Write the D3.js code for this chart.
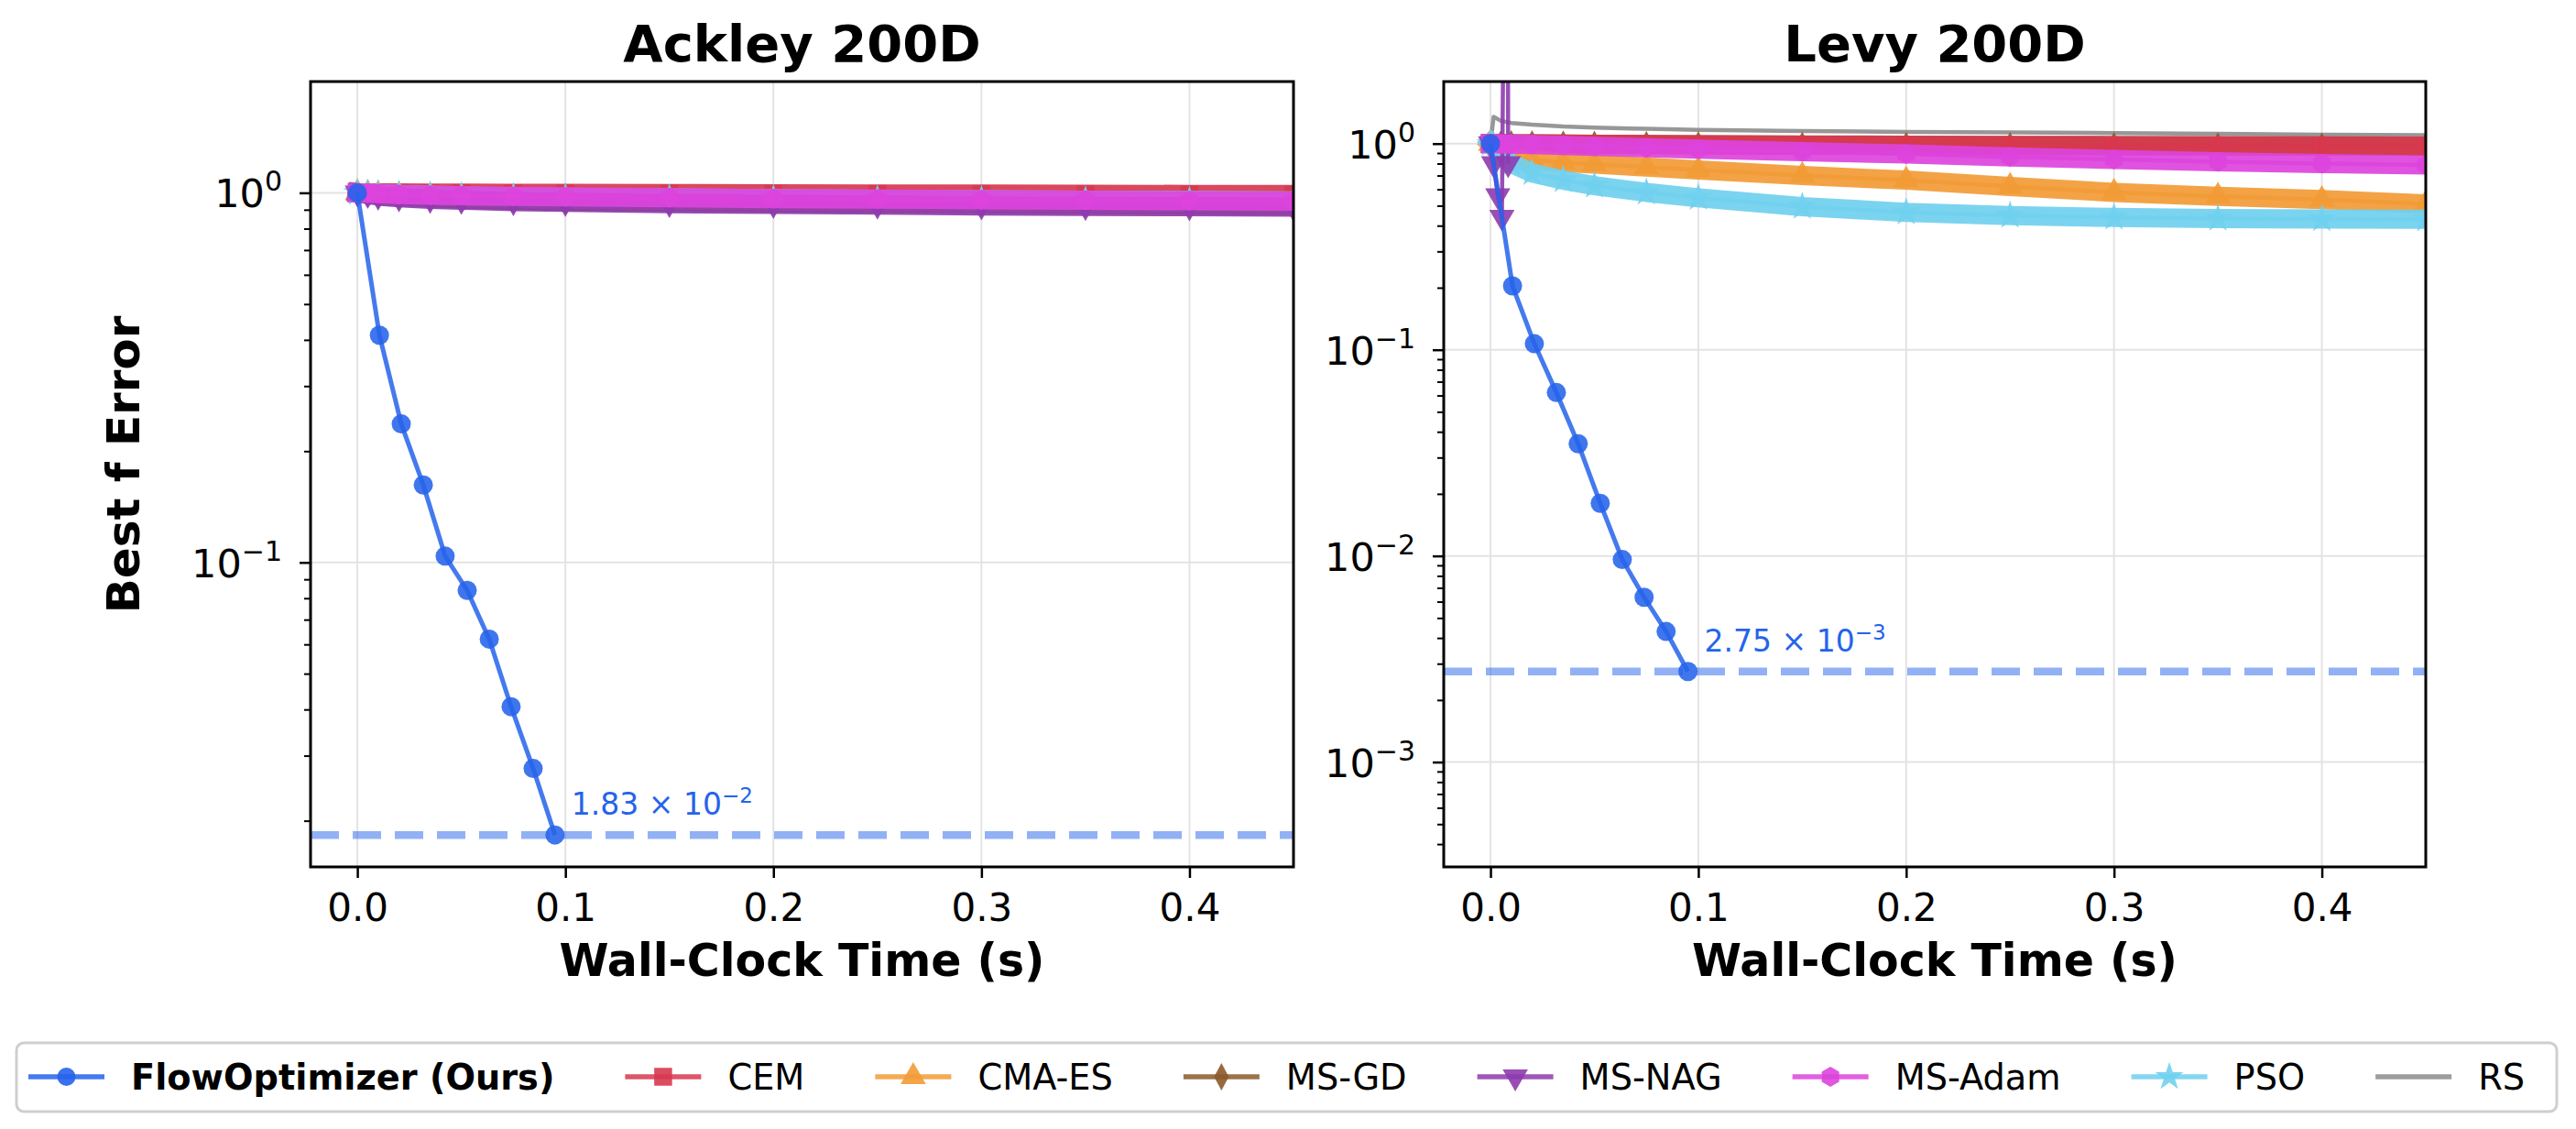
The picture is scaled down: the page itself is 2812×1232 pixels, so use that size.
<!DOCTYPE html>
<html><head><meta charset="utf-8">
<script src="https://cdn.jsdelivr.net/npm/d3@7"></script>
<style>body{margin:0;background:#fff} svg{display:block} text{font-family:"DejaVu Sans",sans-serif}</style>
</head><body><svg id="c" width="2812" height="1232"></svg>
<script>
// ---------------- data ----------------
const methods = ["FlowOptimizer (Ours)","CEM","CMA-ES","MS-GD","MS-NAG","MS-Adam","PSO","RS"];
const methodColors = ["#2563EB","#D7384F","#F29B36","#8B5A2B","#8E3BAE","#DD44DD","#70D0EE","#8C8C8C"];
const methodMarkers = ["circle","square","triUp","thinDiamond","triDown","hexagon","star",null];
const xTickValues = [0, 0.1, 0.2, 0.3, 0.4];
const panelTitles = ["Ackley 200D","Levy 200D"];

const timeFlow = [0, 0.0106, 0.0211, 0.0317, 0.0422, 0.0528, 0.0634, 0.0739, 0.0845, 0.095];
const ackleyFlow = [1.0, 0.412, 0.237, 0.162, 0.104, 0.084, 0.062, 0.0407, 0.0277, 0.0183];
const levyFlow   = [1.0, 0.204, 0.107, 0.062, 0.035, 0.018, 0.0096, 0.0063, 0.0043, 0.00275];

const timeBase = [0, 0.005, 0.01, 0.02, 0.035, 0.05, 0.075, 0.1, 0.15, 0.2, 0.25, 0.3, 0.35, 0.4, 0.45];

// Ackley baselines
const ackleyCEM   = [1.0, 1.0, 1.0, 0.999, 0.998, 0.998, 0.997, 0.996, 0.995, 0.994, 0.993, 0.992, 0.991, 0.99, 0.99];
const ackleyCMAES = [1.0, 0.996, 0.992, 0.985, 0.978, 0.972, 0.966, 0.962, 0.956, 0.951, 0.947, 0.944, 0.941, 0.938, 0.935];
const ackleyMSGD  = [1.0, 0.995, 0.99, 0.98, 0.97, 0.963, 0.955, 0.95, 0.945, 0.94, 0.937, 0.934, 0.931, 0.928, 0.925];
const ackleyMSNAG = [1.0, 0.99, 0.98, 0.97, 0.96, 0.955, 0.947, 0.942, 0.935, 0.93, 0.926, 0.922, 0.919, 0.917, 0.915];
const ackleyMSAdam= [1.0, 0.998, 0.995, 0.99, 0.985, 0.982, 0.978, 0.975, 0.97, 0.965, 0.962, 0.958, 0.955, 0.952, 0.95];
const ackleyPSO   = [1.0, 0.997, 0.994, 0.99, 0.985, 0.98, 0.976, 0.972, 0.968, 0.964, 0.961, 0.958, 0.955, 0.953, 0.951];
const ackleyRS    = [1.0, 1.0, 0.999, 0.998, 0.997, 0.996, 0.995, 0.994, 0.993, 0.992, 0.991, 0.99, 0.99, 0.989, 0.989];

// Levy baselines
const levyCEM    = [1.0, 1.0, 0.998, 0.997, 0.995, 0.993, 0.99, 0.988, 0.985, 0.982, 0.98, 0.978, 0.976, 0.974, 0.972];
const levyCMAES  = [1.0, 0.9, 0.86, 0.835, 0.81, 0.795, 0.77, 0.745, 0.70, 0.665, 0.62, 0.58, 0.555, 0.535, 0.51];
const levyMSGD   = [1.0, 1.0, 0.998, 0.996, 0.994, 0.992, 0.989, 0.986, 0.983, 0.98, 0.978, 0.976, 0.974, 0.972, 0.97];
const levyMSAdam = [1.0, 0.998, 0.995, 0.99, 0.98, 0.97, 0.955, 0.94, 0.915, 0.89, 0.862, 0.837, 0.817, 0.80, 0.787];
const levyPSO    = [1.0, 0.86, 0.80, 0.72, 0.665, 0.625, 0.58, 0.546, 0.495, 0.464, 0.448, 0.438, 0.433, 0.431, 0.43];
const timeLevyNAG = [0, 0.0015, 0.0035, 0.0055, 0.008, 0.0085];
const levyMSNAG   = [1.0, 0.8, 0.56, 0.44, 1000, 0.8];
const timeLevyRS = [0, 0.0015, 0.005, 0.01, 0.02, 0.035, 0.05, 0.075, 0.1, 0.15, 0.2, 0.25, 0.3, 0.35, 0.4, 0.45];
const levyRS     = [1.0, 1.35, 1.29, 1.26, 1.235, 1.21, 1.195, 1.18, 1.165, 1.15, 1.14, 1.133, 1.125, 1.115, 1.105, 1.10];

// ---------------- layout ----------------
const svg = d3.select("#c");
const TOP = 89, BOTTOM = 946;
const panels = [
  {title: panelTitles[0], left: 339, right: 1412, yDomain: [0.015, 2], yLabel: true,
   flow: ackleyFlow,
   series: [
     {m: 7, t: timeBase, v: ackleyRS, band: false},
     {m: 3, t: timeBase, v: ackleyMSGD, band: true},
     {m: 1, t: timeBase, v: ackleyCEM, band: true},
     {m: 2, t: timeBase, v: ackleyCMAES, band: true},
     {m: 6, t: timeBase, v: ackleyPSO, band: true},
     {m: 4, t: timeBase, v: ackleyMSNAG, band: true},
     {m: 5, t: timeBase, v: ackleyMSAdam, band: true}
   ]},
  {title: panelTitles[1], left: 1576, right: 2648, yDomain: [3.1e-4, 2], yLabel: false,
   flow: levyFlow,
   series: [
     {m: 7, t: timeLevyRS, v: levyRS, band: false},
     {m: 3, t: timeBase, v: levyMSGD, band: true},
     {m: 1, t: timeBase, v: levyCEM, band: true},
     {m: 2, t: timeBase, v: levyCMAES, band: true},
     {m: 6, t: timeBase, v: levyPSO, band: true},
     {m: 4, t: timeLevyNAG, v: levyMSNAG, band: false},
     {m: 5, t: timeBase, v: levyMSAdam, band: true}
   ]}
];

function markerPath(type) {
  switch (type) {
    case "circle": return d3.symbol(d3.symbolCircle, 314)();
    case "square": return d3.symbol(d3.symbolSquare, 380)();
    case "triUp": return d3.symbol(d3.symbolTriangle, 330)();
    case "triDown": return d3.symbol(d3.symbolTriangle, 330)();
    case "thinDiamond": return "M0,-15L8,0L0,15L-8,0Z";
    case "hexagon": {
      const r = 11; let p = "";
      for (let i = 0; i < 6; i++) { const a = -Math.PI/2 + i*Math.PI/3; p += (i ? "L" : "M") + (r*Math.cos(a)).toFixed(2) + "," + (r*Math.sin(a)).toFixed(2); }
      return p + "Z";
    }
    case "star": return d3.symbol(d3.symbolStar, 300)();
  }
  return null;
}
function markerRot(type) { return type === "triDown" ? " rotate(180)" : ""; }

const supDigits = n => String(n).replace("-", "\u2212");

panels.forEach((p, pi) => {
  const x = d3.scaleLinear().domain([-0.0225, 0.45]).range([p.left, p.right]);
  const y = d3.scaleLog().domain(p.yDomain).range([BOTTOM, TOP]);
  const g = svg.append("g");
  const clipId = "clip" + pi;
  svg.append("clipPath").attr("id", clipId).append("rect")
    .attr("x", p.left).attr("y", TOP).attr("width", p.right - p.left).attr("height", BOTTOM - TOP);

  const allTicks = y.ticks();
  const major = allTicks.filter(d => Math.abs(Math.log10(d) - Math.round(Math.log10(d))) < 1e-9);
  const minor = allTicks.filter(d => !major.includes(d) && d > p.yDomain[0] && d < p.yDomain[1]);

  // grid
  g.append("g").selectAll("line").data(xTickValues).join("line")
    .attr("x1", d => x(d)).attr("x2", d => x(d)).attr("y1", TOP).attr("y2", BOTTOM)
    .attr("stroke", "#e3e3e3").attr("stroke-width", 2);
  g.append("g").selectAll("line").data(major).join("line")
    .attr("x1", p.left).attr("x2", p.right).attr("y1", d => y(d)).attr("y2", d => y(d))
    .attr("stroke", "#e3e3e3").attr("stroke-width", 2);

  // series
  const dg = g.append("g").attr("clip-path", `url(#${clipId})`);
  const line = d3.line().x(d => x(d[0])).y(d => y(d[1]));
  p.series.forEach(s => {
    const pts = s.t.map((t, i) => [t, s.v[i]]);
    const col = methodColors[s.m];
    if (s.band) {
      dg.append("path").attr("d", line(pts)).attr("fill", "none").attr("stroke", col)
        .attr("stroke-width", 21).attr("stroke-linecap", "square").attr("stroke-linejoin", "round").attr("opacity", 0.92);
    }
    dg.append("path").attr("d", line(pts)).attr("fill", "none").attr("stroke", col)
      .attr("stroke-width", 4.5).attr("stroke-linejoin", "round").attr("opacity", 0.9);
    const mk = methodMarkers[s.m];
    if (mk) {
      dg.append("g").selectAll("path").data(pts.filter(d => d[1] < p.yDomain[1])).join("path")
        .attr("d", markerPath(mk))
        .attr("transform", d => `translate(${x(d[0])},${y(d[1])})${markerRot(mk)}`)
        .attr("fill", col).attr("opacity", 0.9);
    }
  });

  // flow optimizer
  const flowCol = methodColors[0];
  const fpts = timeFlow.map((t, i) => [t, p.flow[i]]);
  const last = fpts[fpts.length - 1];
  dg.append("line").attr("x1", p.left).attr("x2", p.right).attr("y1", y(last[1])).attr("y2", y(last[1]))
    .attr("stroke", flowCol).attr("stroke-opacity", 0.5).attr("stroke-width", 8.5).attr("stroke-dasharray", "31,15");
  dg.append("path").attr("d", line(fpts)).attr("fill", "none").attr("stroke", flowCol)
    .attr("stroke-width", 5).attr("stroke-opacity", 0.85).attr("stroke-linejoin", "round");
  dg.append("g").selectAll("circle").data(fpts).join("circle")
    .attr("cx", d => x(d[0])).attr("cy", d => y(d[1])).attr("r", 10.5)
    .attr("fill", flowCol).attr("fill-opacity", 0.88);

  // annotation
  const expo = Math.floor(Math.log10(last[1]));
  const mant = last[1] / Math.pow(10, expo);
  const at = g.append("text").attr("x", x(last[0]) + 18).attr("y", y(last[1]) - 22)
    .attr("fill", flowCol).attr("font-size", 33);
  at.append("tspan").text(d3.format(".2f")(mant) + " \u00d7 10");
  at.append("tspan").attr("dy", -13).attr("font-size", 23).text(supDigits(expo));

  // axes ticks
  const xa = g.append("g").attr("transform", `translate(0,${BOTTOM})`)
    .call(d3.axisBottom(x).tickValues(xTickValues).tickFormat(d3.format(".1f")).tickSize(12).tickPadding(17));
  xa.select(".domain").remove();
  xa.selectAll("line").attr("stroke", "#000").attr("stroke-width", 2.5);
  xa.selectAll("text").attr("font-size", 42).attr("font-family", "DejaVu Sans").attr("fill", "#000");

  const ya = g.append("g").attr("transform", `translate(${p.left},0)`)
    .call(d3.axisLeft(y).tickValues(major).tickFormat("").tickSize(12));
  ya.select(".domain").remove();
  ya.selectAll("line").attr("stroke", "#000").attr("stroke-width", 2.5);
  const yam = g.append("g").attr("transform", `translate(${p.left},0)`)
    .call(d3.axisLeft(y).tickValues(minor).tickFormat("").tickSize(7));
  yam.select(".domain").remove();
  yam.selectAll("line").attr("stroke", "#000").attr("stroke-width", 2);

  major.forEach(v => {
    const e = Math.round(Math.log10(v));
    const t = g.append("text").attr("x", p.left - 31).attr("y", y(v) + 16).attr("text-anchor", "end")
      .attr("font-size", 43).attr("fill", "#000");
    t.append("tspan").text("10");
    t.append("tspan").attr("dy", -18).attr("font-size", 30).text(supDigits(e));
  });

  // spine
  g.append("rect").attr("x", p.left).attr("y", TOP).attr("width", p.right - p.left).attr("height", BOTTOM - TOP)
    .attr("fill", "none").attr("stroke", "#000").attr("stroke-width", 3);

  // title & labels
  const cx = (p.left + p.right) / 2;
  g.append("text").attr("x", cx).attr("y", 67).attr("text-anchor", "middle")
    .attr("font-size", 56).attr("font-weight", "bold").text(p.title);
  g.append("text").attr("x", cx).attr("y", 1065).attr("text-anchor", "middle")
    .attr("font-size", 49).attr("font-weight", "bold").text("Wall-Clock Time (s)");
  if (p.yLabel) {
    g.append("text").attr("transform", `translate(152,507) rotate(-90)`).attr("text-anchor", "middle")
      .attr("font-size", 50).attr("font-weight", "bold").text("Best f Error");
  }
});

// ---------------- legend ----------------
const lg = svg.append("g");
lg.append("rect").attr("x", 18).attr("y", 1138).attr("width", 2773).attr("height", 75)
  .attr("rx", 8).attr("fill", "#fff").attr("stroke", "#cfcfcf").attr("stroke-width", 3);
let lx = 31;
const ly = 1175;
methods.forEach((m, i) => {
  const col = methodColors[i];
  lg.append("line").attr("x1", lx).attr("x2", lx + 83).attr("y1", ly).attr("y2", ly)
    .attr("stroke", col).attr("stroke-width", 5.5).attr("stroke-opacity", 0.85);
  const mk = methodMarkers[i];
  if (mk) {
    lg.append("path").attr("d", markerPath(mk))
      .attr("transform", `translate(${lx + 41.5},${ly})${markerRot(mk)}`)
      .attr("fill", col).attr("opacity", 0.9);
  }
  const t = lg.append("text").attr("x", lx + 112).attr("y", ly + 14).attr("font-size", 38.3)
    .attr("font-weight", i === 0 ? "bold" : "normal").attr("fill", "#000").text(m);
  lx += 112 + t.node().getComputedTextLength() + 77;
});
</script></body></html>
